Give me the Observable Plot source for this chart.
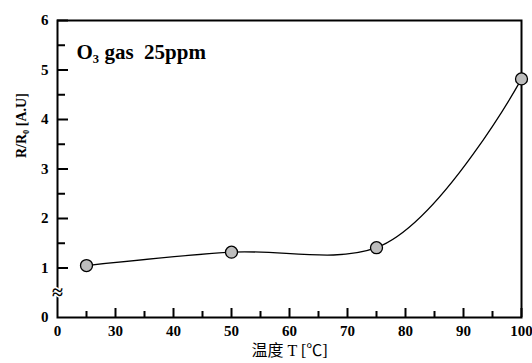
<!DOCTYPE html>
<html>
<head>
<meta charset="utf-8">
<script src="https://cdn.jsdelivr.net/npm/d3@7"></script>
<script src="https://cdn.jsdelivr.net/npm/@observablehq/plot@0.6"></script>
<style>
  html, body { margin: 0; padding: 0; background: #fff; }
  svg { font-family: "Liberation Serif", "Noto Sans CJK SC", serif; }
</style>
</head>
<body>
<div id="chart"></div>
<script>
// Data
const temperature = [25, 50, 75, 100];
const ratio = [1.05, 1.32, 1.41, 4.82];

// Axis ticks
const xMajorTicks = [30, 40, 50, 60, 70, 80, 90, 100];
const xMinorTicks = [25, 35, 45, 55, 65, 75, 85, 95];
const xLabelTicks = [20, 30, 40, 50, 60, 70, 80, 90, 100];
const xTickLabels = ["0", "30", "40", "50", "60", "70", "80", "90", "100"];
const yMajorTicks = [1, 2, 3, 4, 5, 6];
const yMinorTicks = [1.5, 2.5, 3.5, 4.5, 5.5];
const yLabelTicks = [0, 1, 2, 3, 4, 5, 6];
const breakMark = [{x: 20, y: 0.5}];

const data = temperature.map((t, i) => ({t, r: ratio[i]}));

const chart = Plot.plot({
  width: 532,
  height: 363,
  marginLeft: 57,
  marginRight: 11,
  marginTop: 20,
  marginBottom: 46,
  x: {domain: [20, 100]},
  y: {domain: [0, 6]},
  style: {fontFamily: '"Liberation Serif", "Noto Sans CJK SC", serif', color: "#000"},
  marks: [
    // inward ticks
    Plot.axisX(xMajorTicks, {tickSize: 9, dy: -9, tickFormat: () => "", label: null, strokeWidth: 2}),
    Plot.axisX(xMinorTicks, {tickSize: 6, dy: -6, tickFormat: () => "", label: null, strokeWidth: 2}),
    Plot.axisY(yMajorTicks, {tickSize: 11, dx: 11, tickFormat: () => "", label: null, strokeWidth: 2}),
    Plot.axisY(yMinorTicks, {tickSize: 8, dx: 8, tickFormat: () => "", label: null, strokeWidth: 2}),
    // tick labels
    Plot.axisX(xLabelTicks, {tickSize: 0, tickPadding: 8, tickFormat: (d) => xTickLabels[xLabelTicks.indexOf(d)], label: null, fontSize: 15, fontWeight: "bold"}),
    Plot.axisY(yLabelTicks, {tickSize: 0, tickPadding: 9, tickFormat: (d) => String(d), label: null, fontSize: 15, fontWeight: "bold"}),
    Plot.frame({stroke: "#000", strokeWidth: 2}),
    // axis break symbol
    Plot.text(breakMark, {x: "x", y: "y", text: () => "≈", fontSize: 20, stroke: "white", strokeWidth: 3, fill: "#000", fontWeight: "bold"}),
    // curve and points
    Plot.line(data, {x: "t", y: "r", curve: d3.curveCatmullRom.alpha(1), stroke: "#000", strokeWidth: 1.3}),
    Plot.dot(data, {x: "t", y: "r", r: 6, fill: "#bdbdbd", stroke: "#000", strokeWidth: 1.3}),
    // labels
    Plot.text(["O₃ gas  25ppm"], {frameAnchor: "top-left", dx: 19, dy: 24, fontSize: 21, fontWeight: "bold", textAnchor: "start", lineAnchor: "top"}),
    Plot.text(["R/R₀ [A.U]"], {frameAnchor: "left", rotate: -90, dx: -36, dy: -11, fontSize: 14, fontWeight: "bold"}),
    Plot.text(["温度 T [℃]"], {frameAnchor: "bottom", dy: 38, fontSize: 16})
  ]
});
document.getElementById("chart").appendChild(chart);
</script>
</body>
</html>
